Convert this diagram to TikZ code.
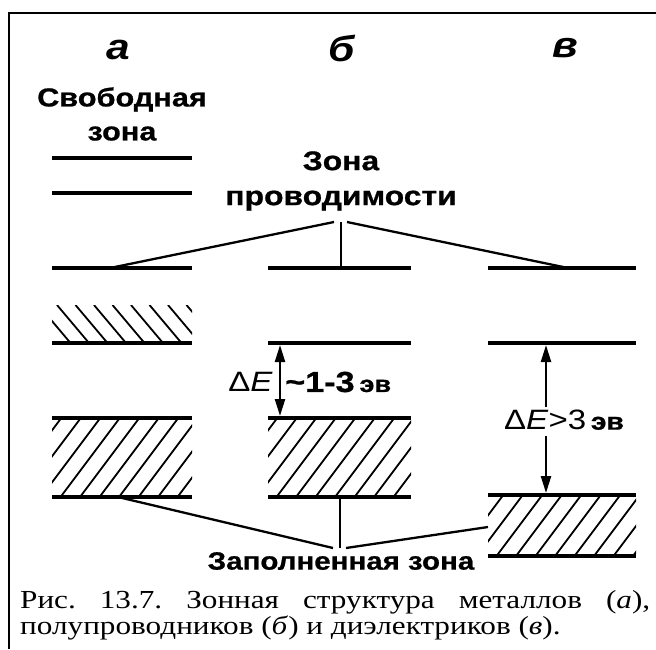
\documentclass[tikz,border=0pt]{standalone}
\usepackage{fontspec}
\setmainfont[FakeStretch=1.2]{Liberation Serif}
\newfontfamily\zonefont[FakeStretch=1.18, BoldFeatures={FakeBold=0.8}]{Liberation Sans}
\usetikzlibrary{arrows.meta, positioning, calc}
\frenchspacing

\begin{document}
\begin{tikzpicture}[x=1pt, y=-1pt, >={Triangle[length=17pt, width=10pt]},
  level/.style={line width=3.4pt},
  hatch/.style={line width=1.8pt},
  lead/.style={line width=2.3pt},
  zone/.style={font=\zonefont\bfseries\fontsize{27}{35}\selectfont, align=center, inner sep=0pt},
  col/.style={font=\zonefont\bfseries\itshape\fontsize{36}{38}\selectfont, inner sep=0pt},
  gap/.style={font=\zonefont\fontsize{28}{30}\selectfont, inner sep=0pt}]
  \useasboundingbox (0,0) rectangle (656,649);
  % frame
  \draw[line width=1.4pt] (656,13) -- (9,13) -- (9,649);

  % column letters
  \node[col] (ka) at (118,50) {а};
  \node[col] (kb) at (342,48) {б};
  \node[col] (kv) at (565,48) {в};

  % zone labels
  \node[zone, font=\zonefont\bfseries\fontsize{26}{34}\selectfont] (free) at (122,114) {Свободная\\зона};
  \node[zone] (cond) at (341,181) {Зона\\проводимости};
  \node[zone, font=\zonefont\bfseries\fontsize{25}{30}\selectfont] (fill) at (341,561) {Заполненная зона};

  % hatched bands
  \begin{scope}
    \clip (52,305) rectangle (192,343);
    \foreach \x in {0,...,9} \draw[hatch] (20+\x*18.5,305) -- ++(32,38);
  \end{scope}
  \foreach \xa/\xb/\ya/\yb in {52/192/418/497, 268/411/418/497, 488/636/495/556} {
    \begin{scope}
      \clip (\xa,\ya) rectangle (\xb,\yb);
      \foreach \k in {0,...,11} \draw[hatch] (\xa-50+\k*19.5,\yb) -- ++(60,-80);
    \end{scope}
    \draw[level] (\xa,\yb) -- (\xb,\yb);
    \draw[level] (\xa,\ya) -- (\xb,\ya);
  }

  % levels
  \draw[level] (52,158) -- (192,158);
  \draw[level] (52,193) -- (192,193);
  \draw[level] (52,268) -- (192,268);
  \draw[level] (52,343) -- (192,343);
  \draw[level] (268,268) -- (411,268);
  \draw[level] (268,343) -- (411,343);
  \draw[level] (488,268) -- (636,268);
  \draw[level] (488,343) -- (636,343);

  % leads to the conduction band
  \coordinate (cond-l) at (334,222);
  \coordinate (cond-m) at (341,222);
  \coordinate (cond-r) at (347,222);
  \coordinate (a-cb) at (110,268);
  \coordinate (b-cb) at (341,268);
  \coordinate (v-cb) at (568,268);
  \draw[lead] (cond-l) -- (a-cb);
  \draw[lead] (cond-m) -- (b-cb);
  \draw[lead] (cond-r) -- (v-cb);

  % leads to the filled band
  \coordinate (fill-l) at (333,548);
  \coordinate (fill-m) at (340,548);
  \coordinate (fill-r) at (346,548);
  \coordinate (a-fb) at (118,497);
  \coordinate (b-fb) at (340,497);
  \coordinate (v-fb) at (488,527);
  \draw[lead] (fill-l) -- (a-fb);
  \draw[lead] (fill-m) -- (b-fb);
  \draw[lead] (fill-r) -- (v-fb);

  % gap of the semiconductor
  \coordinate (b-gt) at (280,345);
  \coordinate (b-gb) at (280,416);
  \draw[lead, <->] (b-gt) -- (b-gb);
  \node[gap, anchor=east] (b-de) at (273,382) {Δ\textit{E}};
  \node[gap, anchor=west, font=\zonefont\bfseries\fontsize{29}{30}\selectfont] (b-dv) at (285,382) {\textasciitilde1-3\,{\fontsize{23}{24}\selectfont эв}};

  % gap of the insulator
  \node[gap] (v-de) at (564,420) {Δ\textit{E}>3\,{\bfseries\fontsize{24}{24}\selectfont эв}};
  \coordinate (v-gt) at (546,345);
  \coordinate (v-gb) at (546,493);
  \draw[lead, ->] (v-de.north -| v-gt) ++(0,-3) -- (v-gt);
  \draw[lead, ->] (v-de.south -| v-gb) ++(0,6) -- (v-gb);

  % caption
  \node[anchor=north west, inner sep=0pt, text width=630pt, align=justify,
    font=\fontsize{26}{26}\selectfont] (capt) at (20,590)
    {Рис.\ 13.7. Зонная структура металлов (\textit{а}), полупроводников (\textit{б}) и диэлектриков (\textit{в}).};
\end{tikzpicture}
\end{document}
